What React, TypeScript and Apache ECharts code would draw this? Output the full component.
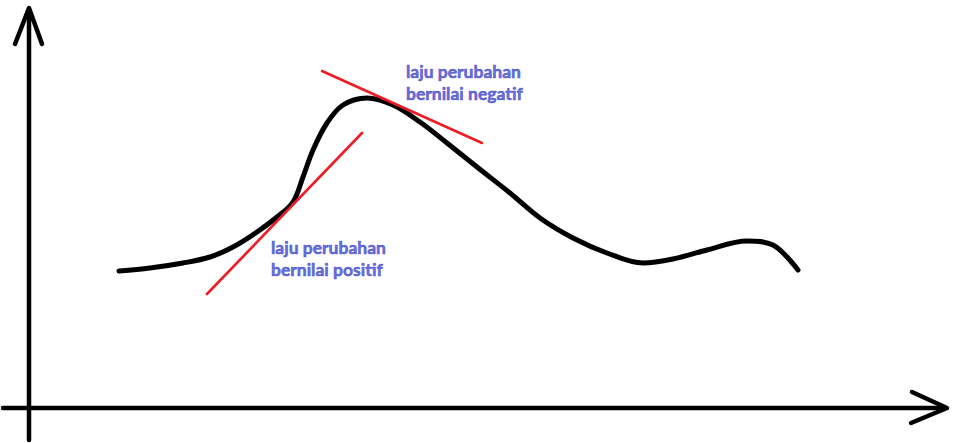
import React, { useEffect, useRef } from "react";
import * as echarts from "echarts";

// Curve f(x): sampled points (x, y) in the sketch's own units (origin at axis crossing)
const curveX = [90, 121, 154, 181, 204, 228, 248, 264, 274, 284, 298, 314, 338, 364, 391, 418, 448, 481, 511, 544, 578, 614, 644, 678, 718, 744, 769];
const curveY = [137, 140, 145, 151, 161, 176, 191, 206, 231, 258, 285, 303, 310, 303, 286, 265, 241, 215, 190, 170, 155, 145, 149, 158, 167, 163, 138];

// Tangent lines
const tangentNegX = [293, 453];
const tangentNegY = [337, 265];
const tangentPosX = [178, 333];
const tangentPosY = [114, 275];

// Axes and their open arrowheads
const yAxisLineX = [0, 0];
const yAxisLineY = [-32, 398];
const yArrowX = [-14, 0, 13];
const yArrowY = [364, 400, 364];
const xAxisLineX = [-26, 916];
const xAxisLineY = [0, 0];
const xArrowX = [883, 918, 882];
const xArrowY = [16, 0, -15];

// Annotations
const labelNeg = { x: 377, y: 348, text: "laju perubahan\nbernilai negatif" };
const labelPos = { x: 242, y: 172, text: "laju perubahan\nbernilai positif" };

const zip = (xs: number[], ys: number[]) => xs.map((x, i) => [x, ys[i]]);

export default function App() {
  const ref = useRef<HTMLDivElement>(null);
  useEffect(() => {
    if (!ref.current) return;
    const chart = echarts.init(ref.current, null, { renderer: "svg" });
    const black = { color: "#000", width: 4.5, cap: "round", join: "round" };
    const lineBase = { type: "line", showSymbol: false, symbol: "none", silent: true };
    const labelStyle = {
      show: true,
      position: [0, 0],
      align: "left",
      verticalAlign: "top",
      color: "#3f48cc",
      textBorderColor: "#3f48cc",
      textBorderWidth: 0.6,
      fontFamily: "Lato",
      fontWeight: "bold",
      fontSize: 17.5,
      lineHeight: 22,
      formatter: (p: any) => p.data.text,
    };
    chart.setOption({
      animation: false,
      backgroundColor: "#fff",
      grid: { left: 0, right: 0, top: 0, bottom: 0, containLabel: false },
      xAxis: { type: "value", min: -29, max: 933, show: false },
      yAxis: { type: "value", min: -35, max: 408, show: false },
      series: [
        { ...lineBase, data: zip(yAxisLineX, yAxisLineY), lineStyle: black },
        { ...lineBase, data: zip(yArrowX, yArrowY), lineStyle: black },
        { ...lineBase, data: zip(xAxisLineX, xAxisLineY), lineStyle: black },
        { ...lineBase, data: zip(xArrowX, xArrowY), lineStyle: black },
        { ...lineBase, data: zip(curveX, curveY), smooth: 0.35, lineStyle: { color: "#000", width: 5, cap: "round", join: "round" } },
        { ...lineBase, data: zip(tangentNegX, tangentNegY), lineStyle: { color: "#ed1c24", width: 2.6, cap: "round" } },
        { ...lineBase, data: zip(tangentPosX, tangentPosY), lineStyle: { color: "#ed1c24", width: 2.6, cap: "round" } },
        {
          type: "scatter",
          symbolSize: 0,
          silent: true,
          data: [
            { value: [labelNeg.x, labelNeg.y], text: labelNeg.text },
            { value: [labelPos.x, labelPos.y], text: labelPos.text },
          ],
          label: labelStyle,
        },
      ],
    });
    return () => chart.dispose();
  }, []);
  return <div ref={ref} style={{ position: "fixed", left: 0, top: 0, width: 962, height: 443 }} />;
}
